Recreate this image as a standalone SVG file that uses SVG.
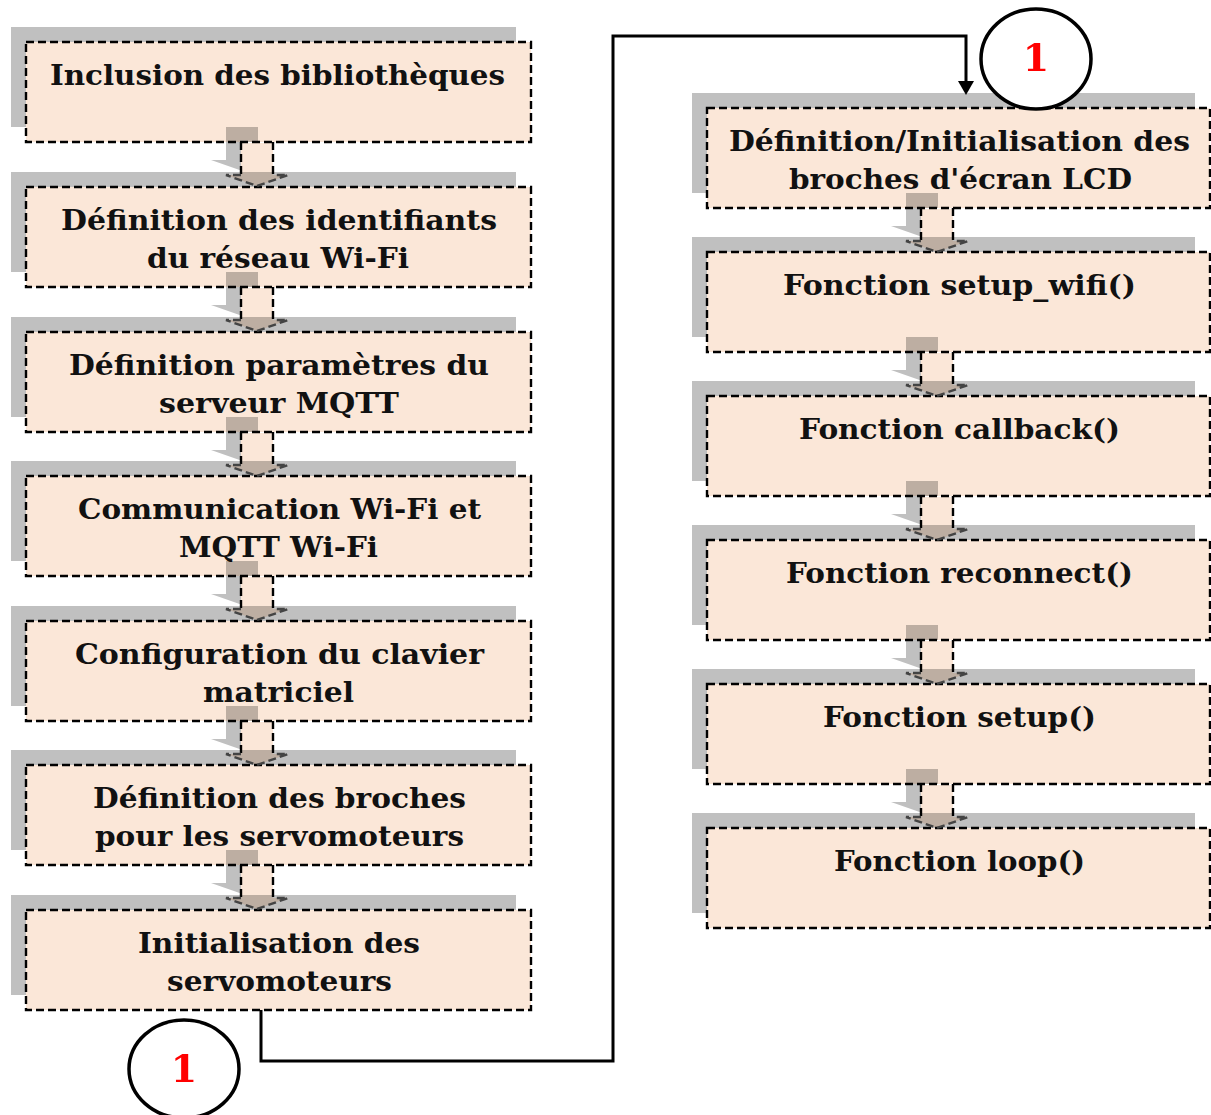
<svg xmlns="http://www.w3.org/2000/svg" xmlns:xlink="http://www.w3.org/1999/xlink" width="1211" height="1115" viewBox="0 0 1211 1115">
  <style>
    .sh { fill: #c0c0c0; mix-blend-mode: multiply; }
    .bx { fill: #fbe7d8; stroke: #000; stroke-width: 2.4; stroke-dasharray: 8 4; }
    .lbl { font-family: "DejaVu Serif", "Liberation Serif", serif; font-weight: bold; font-size: 28px; fill: #111; }
    .ash { fill: #c0c0c0; mix-blend-mode: multiply; }
    .af { fill: #fbe7d8; mix-blend-mode: multiply; }
    .shaft { fill: none; stroke: #000; stroke-width: 2.4; stroke-dasharray: 8 4; }
    .head { fill: none; stroke: #444; stroke-width: 2.4; stroke-dasharray: 8 4; }
    .link { fill: none; stroke: #000; stroke-width: 3; stroke-linejoin: miter; }
    .ring { fill: #fff; stroke: #000; stroke-width: 3.5; }
    .num { font-family: "DejaVu Serif", "Liberation Serif", serif; font-weight: bold; font-size: 38px; fill: #ff0000; text-anchor: middle; }
  </style>
  <defs>
    <!-- block arrow between two stacked boxes; origin = centre of upper box bottom edge -->
    <g id="blockArrow">
      <path class="ash" d="M-31,-15 H1 V0 H-16 V28.6 L-46,18 H-31 Z"/>
      <path class="af" d="M-16,1 V33 H-31 L0,44 L31,33 H16 V1 Z"/>
      <path class="shaft" d="M-16,0 V33 M16,0 V33"/>
      <path class="head" d="M-16,33 H-31 L0,44 L31,33 H16"/>
    </g>
    <!-- filled arrowhead, base at the line end, pointing along the line -->
    <marker id="tip" markerUnits="userSpaceOnUse" markerWidth="14" markerHeight="16" refX="0" refY="8" orient="auto" viewBox="0 0 14 16">
      <path d="M0,0 L14,8 L0,16 Z" fill="#000"/>
    </marker>
  </defs>

  <rect width="1211" height="1115" fill="#fff"/>

  <!-- left column -->
  <g id="n1">
    <rect class="sh" x="11" y="27" width="505" height="100"/>
    <rect class="bx" x="26" y="42" width="505" height="100"/>
    <text class="lbl" x="50" y="85" textLength="455" lengthAdjust="spacingAndGlyphs">Inclusion des bibliothèques</text>
  </g>
  <g id="n2">
    <rect class="sh" x="11" y="172" width="505" height="100"/>
    <rect class="bx" x="26" y="187" width="505" height="100"/>
    <text class="lbl" x="61" y="230" textLength="436" lengthAdjust="spacingAndGlyphs">Définition des identifiants</text>
    <text class="lbl" x="147" y="268" textLength="262" lengthAdjust="spacingAndGlyphs">du réseau Wi-Fi</text>
  </g>
  <g id="n3">
    <rect class="sh" x="11" y="317" width="505" height="100"/>
    <rect class="bx" x="26" y="332" width="505" height="100"/>
    <text class="lbl" x="69" y="375" textLength="420" lengthAdjust="spacingAndGlyphs">Définition paramètres du</text>
    <text class="lbl" x="159" y="413" textLength="240" lengthAdjust="spacingAndGlyphs">serveur MQTT</text>
  </g>
  <g id="n4">
    <rect class="sh" x="11" y="461" width="505" height="100"/>
    <rect class="bx" x="26" y="476" width="505" height="100"/>
    <text class="lbl" x="78" y="519" textLength="403" lengthAdjust="spacingAndGlyphs">Communication Wi-Fi et</text>
    <text class="lbl" x="179" y="557" textLength="199" lengthAdjust="spacingAndGlyphs">MQTT Wi-Fi</text>
  </g>
  <g id="n5">
    <rect class="sh" x="11" y="606" width="505" height="100"/>
    <rect class="bx" x="26" y="621" width="505" height="100"/>
    <text class="lbl" x="75" y="664" textLength="409" lengthAdjust="spacingAndGlyphs">Configuration du clavier</text>
    <text class="lbl" x="203" y="702" textLength="151" lengthAdjust="spacingAndGlyphs">matriciel</text>
  </g>
  <g id="n6">
    <rect class="sh" x="11" y="750" width="505" height="100"/>
    <rect class="bx" x="26" y="765" width="505" height="100"/>
    <text class="lbl" x="93" y="808" textLength="373" lengthAdjust="spacingAndGlyphs">Définition des broches</text>
    <text class="lbl" x="95" y="846" textLength="369" lengthAdjust="spacingAndGlyphs">pour les servomoteurs</text>
  </g>
  <g id="n7">
    <rect class="sh" x="11" y="895" width="505" height="100"/>
    <rect class="bx" x="26" y="910" width="505" height="100"/>
    <text class="lbl" x="138" y="953" textLength="282" lengthAdjust="spacingAndGlyphs">Initialisation des</text>
    <text class="lbl" x="167" y="991" textLength="225" lengthAdjust="spacingAndGlyphs">servomoteurs</text>
  </g>

  <!-- right column -->
  <g id="n8">
    <rect class="sh" x="692" y="93" width="503" height="100"/>
    <rect class="bx" x="707" y="108" width="503" height="100"/>
    <text class="lbl" x="729" y="151" textLength="461" lengthAdjust="spacingAndGlyphs">Définition/Initialisation des</text>
    <text class="lbl" x="789" y="189" textLength="343" lengthAdjust="spacingAndGlyphs">broches d'écran LCD</text>
  </g>
  <g id="n9">
    <rect class="sh" x="692" y="237" width="503" height="100"/>
    <rect class="bx" x="707" y="252" width="503" height="100"/>
    <text class="lbl" x="783" y="295" textLength="353" lengthAdjust="spacingAndGlyphs">Fonction setup_wifi()</text>
  </g>
  <g id="n10">
    <rect class="sh" x="692" y="381" width="503" height="100"/>
    <rect class="bx" x="707" y="396" width="503" height="100"/>
    <text class="lbl" x="799" y="439" textLength="321" lengthAdjust="spacingAndGlyphs">Fonction callback()</text>
  </g>
  <g id="n11">
    <rect class="sh" x="692" y="525" width="503" height="100"/>
    <rect class="bx" x="707" y="540" width="503" height="100"/>
    <text class="lbl" x="786" y="583" textLength="347" lengthAdjust="spacingAndGlyphs">Fonction reconnect()</text>
  </g>
  <g id="n12">
    <rect class="sh" x="692" y="669" width="503" height="100"/>
    <rect class="bx" x="707" y="684" width="503" height="100"/>
    <text class="lbl" x="823" y="727" textLength="273" lengthAdjust="spacingAndGlyphs">Fonction setup()</text>
  </g>
  <g id="n13">
    <rect class="sh" x="692" y="813" width="503" height="100"/>
    <rect class="bx" x="707" y="828" width="503" height="100"/>
    <text class="lbl" x="834" y="871" textLength="251" lengthAdjust="spacingAndGlyphs">Fonction loop()</text>
  </g>

  <!-- connectors -->
  <g id="connectors">
    <use xlink:href="#blockArrow" transform="translate(257,142)"/>
    <use xlink:href="#blockArrow" transform="translate(257,287)"/>
    <use xlink:href="#blockArrow" transform="translate(257,432)"/>
    <use xlink:href="#blockArrow" transform="translate(257,576)"/>
    <use xlink:href="#blockArrow" transform="translate(257,721)"/>
    <use xlink:href="#blockArrow" transform="translate(257,865)"/>
    <use xlink:href="#blockArrow" transform="translate(937,208)"/>
    <use xlink:href="#blockArrow" transform="translate(937,352)"/>
    <use xlink:href="#blockArrow" transform="translate(937,496)"/>
    <use xlink:href="#blockArrow" transform="translate(937,640)"/>
    <use xlink:href="#blockArrow" transform="translate(937,784)"/>
    <path class="link" d="M261,1010 V1061 H613 V36 H966 V81" marker-end="url(#tip)"/>
  </g>

  <!-- continuation markers -->
  <g id="ref-out">
    <ellipse class="ring" cx="184" cy="1069" rx="55" ry="49"/>
    <text class="num" x="184" y="1082">1</text>
  </g>
  <g id="ref-in">
    <ellipse class="ring" cx="1036" cy="59" rx="55" ry="50"/>
    <text class="num" x="1036" y="71">1</text>
  </g>
</svg>
